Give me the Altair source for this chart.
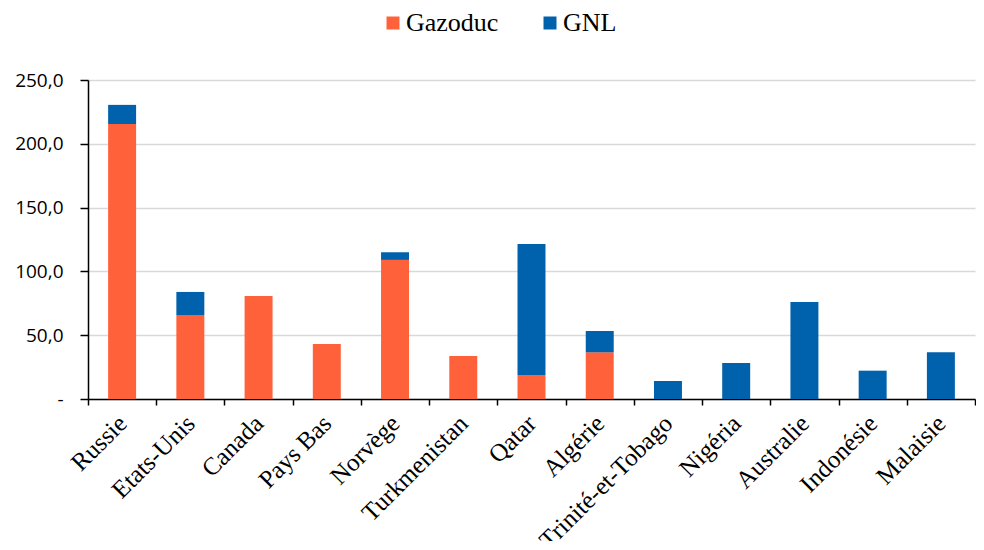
import altair as alt
import pandas as pd

countries = ["Russie", "Etats-Unis", "Canada", "Pays Bas", "Norvège", "Turkmenistan",
             "Qatar", "Algérie", "Trinité-et-Tobago", "Nigéria", "Australie", "Indonésie", "Malaisie"]
gazoduc = [215.5, 65.8, 80.7, 43.1, 109.0, 33.7, 18.8, 36.6, 0, 0, 0, 0, 0]
gnl = [15.0, 18.1, 0, 0, 6.0, 0, 102.7, 16.7, 14.1, 28.2, 76.0, 22.2, 36.6]
series = ["Gazoduc", "GNL"]
colors = ["#FF623A", "#0061AC"]

rows = []
for c, g, l in zip(countries, gazoduc, gnl):
    if g > 0:
        rows.append({"pays": c, "type": series[0], "val": g, "o": 0})
    if l > 0:
        rows.append({"pays": c, "type": series[1], "val": l, "o": 1})
df = pd.DataFrame(rows)

chart = alt.Chart(df).mark_bar(width=alt.RelativeBandSize(0.41)).encode(
    x=alt.X("pays:N", sort=countries, title=None,
            scale=alt.Scale(paddingInner=0, paddingOuter=0),
            axis=alt.Axis(labelAngle=-45, labelAlign="right", labelBaseline="middle",
                          labelFont="Liberation Serif", labelFontSize=25, labelColor="#000000",
                          labelPadding=14, tickBand="extent", tickSize=6, tickColor="#000000",
                          tickWidth=1.5, domainColor="#000000", domainWidth=1.5,
                          grid=False, labelOverlap=False)),
    y=alt.Y("val:Q", stack="zero", title=None,
            scale=alt.Scale(domain=[0, 250], nice=False),
            axis=alt.Axis(values=[0, 50, 100, 150, 200, 250],
                          labelExpr="datum.value == 0 ? '-' : replace(format(datum.value, '.1f'), '.', ',')",
                          labelFont="Open Sans", labelFontSize=19, labelColor="#000000",
                          labelPadding=17, tickSize=8, tickColor="#000000", tickWidth=1.5,
                          domainColor="#000000", domainWidth=1.5,
                          grid=True, gridColor="#D9D9D9", gridWidth=1.5)),
    color=alt.Color("type:N", sort=series, title=None,
                    scale=alt.Scale(domain=series, range=colors),
                    legend=alt.Legend(orient="none", legendX=292, legendY=-70,
                                      direction="horizontal", symbolType="square",
                                      symbolSize=169, symbolStrokeWidth=0,
                                      labelFont="Liberation Serif", labelFontSize=26,
                                      labelColor="#000000", labelOffset=0,
                                      columnPadding=38, padding=0)),
    order=alt.Order("o:Q", sort="ascending"),
).properties(
    width=887, height=319,
    autosize=alt.AutoSizeParams(type="none"),
    padding={"left": 80, "top": 72, "right": 1, "bottom": 142},
).configure_view(stroke=None)

chart.save("out.html", embed_options={"renderer": "svg", "actions": False})
